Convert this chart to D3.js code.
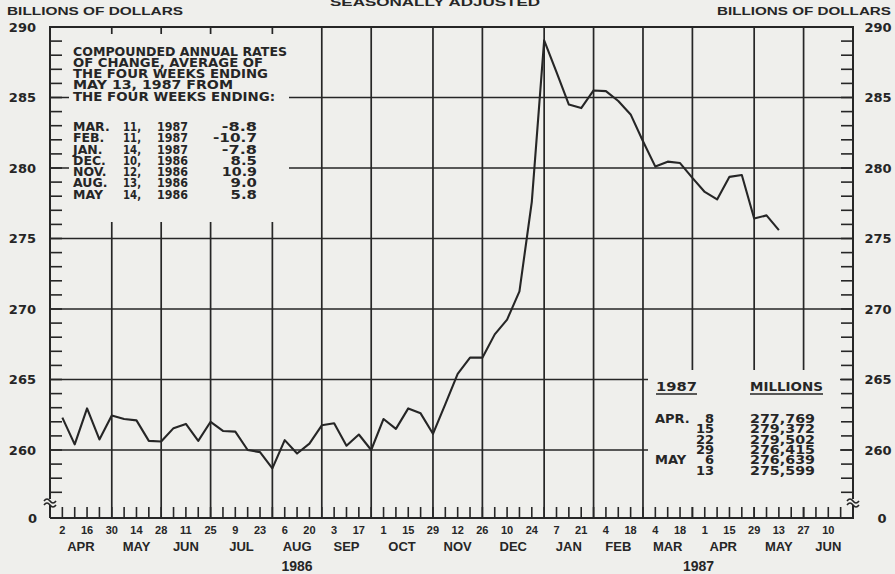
<!DOCTYPE html>
<html><head><meta charset="utf-8">
<script src="https://cdn.jsdelivr.net/npm/d3@7"></script>
<style>body{margin:0;background:#efefec} svg{display:block}</style>
</head><body>
<svg id="c" width="895" height="574"></svg>
<script>
// ---------- DATA ----------
const firstWeek = "1986-04-02";           // weekly (Wednesday) observations
const m1Values = [
  262.3, 260.4, 262.95, 260.75, 262.45, 262.2, 262.1, 260.65, 260.6, 261.55,
  261.85, 260.65, 262.0, 261.35, 261.3, 260.0, 259.85, 258.7, 260.7, 259.75,
  260.45, 261.75, 261.9, 260.3, 261.1, 260.0, 262.2, 261.5, 262.95, 262.6,
  261.15, 263.25, 265.4, 266.55, 266.55, 268.2, 269.25, 271.25, 277.6, 289.05,
  286.8, 284.5, 284.25, 285.5, 285.45, 284.75, 283.8, 281.9, 280.1, 280.45,
  280.35, 279.3, 278.3, 277.769, 279.372, 279.502, 276.415, 276.639, 275.599
];
const yTickValues = [260, 265, 270, 275, 280, 285, 290];
const yMinorTicks = d3.range(257, 291, 1);
const xDomain = ["1986-03-26", "1987-06-24"];
const monthEnds = ["1986-03-26","1986-04-30","1986-05-28","1986-06-25","1986-07-30","1986-08-27",
  "1986-09-24","1986-10-29","1986-11-26","1986-12-31","1987-01-28","1987-02-25",
  "1987-03-25","1987-04-29","1987-05-27","1987-06-24"];
const monthNames = ["APR","MAY","JUN","JUL","AUG","SEP","OCT","NOV","DEC","JAN","FEB","MAR","APR","MAY","JUN"];
const xTickLabels = ["2","16","30","14","28","11","25","9","23","6","20","3","17","1","15","29",
  "12","26","10","24","7","21","4","18","4","18","1","15","29","13","27","10","24"];
const years = [{label:"1986", from:"1986-03-26", to:"1986-12-31"},
               {label:"1987", from:"1986-12-31", to:"1987-06-24"}];
const boxHeader = ["COMPOUNDED ANNUAL RATES","OF CHANGE, AVERAGE OF","THE FOUR WEEKS ENDING",
  "MAY 13, 1987 FROM","THE FOUR WEEKS ENDING:"];
const rateMonths = ["MAR.","FEB.","JAN.","DEC.","NOV.","AUG.","MAY"];
const rateDays   = ["11,","11,","14,","10,","12,","13,","14,"];
const rateYears  = ["1987","1987","1987","1986","1986","1986","1986"];
const rateValues = ["-8.8","-10.7","-7.8","8.5","10.9","9.0","5.8"];
const tableMonths = ["APR.","","","","MAY",""];
const tableDays   = ["8","15","22","29","6","13"];
const tableValues = ["277,769","279,372","279,502","276,415","276,639","275,599"];

// ---------- SETUP ----------
const ink = "#262626", bg = "#efefec";
const svg = d3.select("#c");
const parse = d3.utcParse("%Y-%m-%d");
const L = 50, R = 853, T = 27, B = 518;
const x = d3.scaleUtc().domain(xDomain.map(parse)).range([L, R]);
const y = d3.scaleLinear().domain([260, 290]).range([450, T]);
const start = parse(firstWeek);
const series = m1Values.map((v, i) => ({date: d3.utcDay.offset(start, 7 * i), value: v}));

svg.append("rect").attr("width", 895).attr("height", 574).attr("fill", bg);

const g = svg.append("g").attr("stroke", ink).attr("fill", "none");

// horizontal grid
g.selectAll("line.hg").data(yTickValues.filter(v => v < 290)).join("line")
  .attr("x1", L).attr("x2", R).attr("y1", d => y(d)).attr("y2", d => y(d))
  .attr("stroke-width", 1.7);
// vertical grid (month separators)
g.selectAll("line.vg").data(monthEnds.map(parse)).join("line")
  .attr("x1", d => x(d)).attr("x2", d => x(d)).attr("y1", T).attr("y2", B)
  .attr("stroke-width", 1.7);
// left/right minor ticks
g.selectAll("line.lt").data(yMinorTicks).join("line")
  .attr("x1", L).attr("x2", L + 12).attr("y1", d => y(d)).attr("y2", d => y(d)).attr("stroke-width", 1.6);
g.selectAll("line.rt").data(yMinorTicks).join("line")
  .attr("x1", R - 12).attr("x2", R).attr("y1", d => y(d)).attr("y2", d => y(d)).attr("stroke-width", 1.6);
// weekly ticks on bottom
const weeklyTicks = d3.utcWednesday.range(x.domain()[0], x.domain()[1]);
g.selectAll("line.wt").data(weeklyTicks).join("line")
  .attr("x1", d => x(d)).attr("x2", d => x(d)).attr("y1", B).attr("y2", B - 11).attr("stroke-width", 1.6);
// frame
g.append("path").attr("d", `M${L},${B}V${T}H${R}V${B}H${L}`).attr("stroke-width", 2);

// masking boxes for text panels
svg.append("rect").attr("x", 69).attr("y", 34).attr("width", 220).attr("height", 188).attr("fill", bg);
svg.append("rect").attr("x", 648).attr("y", 370).attr("width", 192).attr("height", 137).attr("fill", bg);

// data line
svg.append("path").datum(series)
  .attr("fill", "none").attr("stroke", ink).attr("stroke-width", 2.1).attr("stroke-linejoin", "round")
  .attr("d", d3.line().x(d => x(d.date)).y(d => y(d.value)));

// axis breaks
function brk(cx, cy) {
  const p = `M${cx-6},${cy-1} q3,-4 6,0 t6,0 M${cx-6},${cy+3} q3,-4 6,0 t6,0`;
  svg.append("rect").attr("x", cx - 2).attr("y", cy - 3).attr("width", 4).attr("height", 6).attr("fill", bg);
  svg.append("path").attr("d", p).attr("fill", "none").attr("stroke", ink).attr("stroke-width", 1.6);
}
brk(L, 502); brk(R, 502);

// ---------- TEXT ----------
const t = svg.append("g").attr("fill", ink).attr("font-weight", "bold");
const DV = "DejaVu Sans", LS = "Liberation Sans";
function txt(s, xx, yy, opts = {}) {
  const e = t.append("text").attr("x", xx).attr("y", yy).text(s)
    .attr("font-family", opts.font || DV).attr("font-size", opts.size || 13)
    .attr("text-anchor", opts.anchor || "start");
  if (opts.len) e.attr("textLength", opts.len).attr("lengthAdjust", "spacingAndGlyphs");
  return e;
}
txt("BILLIONS OF DOLLARS", 7, 15, {font: LS, size: 11.5, len: 176});
txt("BILLIONS OF DOLLARS", 717, 15, {font: LS, size: 11.5, len: 174});
txt("SEASONALLY ADJUSTED", 330, 6, {font: LS, size: 11.5, len: 210});

yTickValues.forEach(v => {
  txt(String(v), 36, y(v) + 4.7, {anchor: "end", size: 13});
  txt(String(v), 878, y(v) + 4.7, {anchor: "middle", size: 13});
});
txt("0", 37, B + 5, {anchor: "end", size: 13});
txt("0", 882, B + 5, {anchor: "middle", size: 13});

// x tick labels (biweekly from Apr 2)
const labelDates = weeklyTicks.filter((d, i) => i % 2 === 1);
labelDates.forEach((d, i) => txt(xTickLabels[i], x(d), 533.5, {anchor: "middle", font: LS, size: 11}));
// month labels between separators
const me = monthEnds.map(parse);
monthNames.forEach((m, i) => txt(m, (x(me[i]) + x(me[i + 1])) / 2, 551, {anchor: "middle", font: LS, size: 13}));
years.forEach(yr => txt(yr.label, (x(parse(yr.from)) + x(parse(yr.to))) / 2, 571, {anchor: "middle", font: LS, size: 14}));

// rates box
const hdrLens = [214, 190, 195, 160, 202];
boxHeader.forEach((s, i) => txt(s, 73, 55.5 + i * 11.25, {size: 12.5, len: hdrLens[i]}));
rateMonths.forEach((m, i) => {
  const yy = 131 + i * 11.25;
  txt(m, 73, yy, {size: 12.5});
  txt(rateDays[i], 123, yy, {size: 12.5, len: 18});
  txt(rateYears[i], 157, yy, {size: 12.5, len: 31});
  txt(rateValues[i], 257, yy, {size: 12.5, anchor: "end", len: rateValues[i].length * 8.8});
});

// table box
txt("1987", 656, 390.5, {size: 13, len: 41});
txt("MILLIONS", 750, 390.5, {size: 13, len: 73});
svg.append("line").attr("x1", 656).attr("x2", 697).attr("y1", 394).attr("y2", 394).attr("stroke", ink).attr("stroke-width", 1.5);
svg.append("line").attr("x1", 750).attr("x2", 823).attr("y1", 394).attr("y2", 394).attr("stroke", ink).attr("stroke-width", 1.5);
tableValues.forEach((v, i) => {
  const yy = 422.7 + i * 10.4;
  if (tableMonths[i]) txt(tableMonths[i], 655, yy, {size: 13});
  txt(tableDays[i], 714, yy, {size: 13, anchor: "end"});
  txt(v, 815, yy, {size: 13, anchor: "end", len: 65});
});
</script>
</body></html>
